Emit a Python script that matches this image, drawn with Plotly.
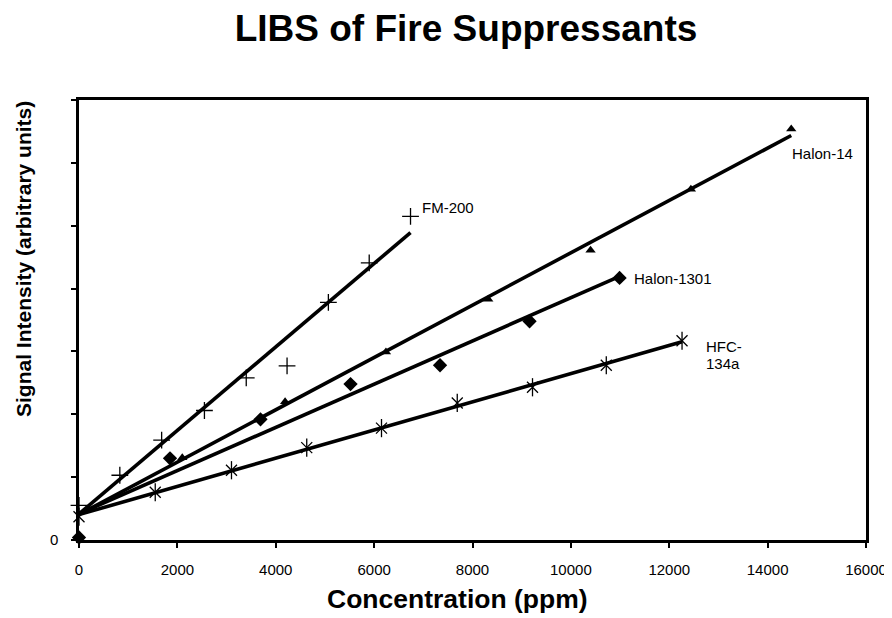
import numpy as np
import plotly.graph_objects as go

# ---- data ----
fm200_x = [0, 830, 1680, 2550, 3400, 4230, 5070, 5900, 6740]
fm200_y = [0.55, 1.03, 1.59, 2.06, 2.58, 2.77, 3.78, 4.41, 5.15]

halon14_x = [2100, 4190, 6240, 8320, 10400, 12440, 14480]
halon14_y = [1.31, 2.20, 2.99, 3.83, 4.61, 5.58, 6.54]

halon1301_x = [0, 1850, 3690, 5520, 7340, 9160, 10990]
halon1301_y = [0.04, 1.30, 1.92, 2.48, 2.78, 3.48, 4.17]

hfc_x = [0, 1550, 3100, 4630, 6150, 7690, 9220, 10720, 12260]
hfc_y = [0.37, 0.76, 1.11, 1.47, 1.78, 2.18, 2.43, 2.78, 3.17]

x_ticks = [0, 2000, 4000, 6000, 8000, 10000, 12000, 14000, 16000]
x_ticktext = ["0", "2000", "4000", "6000", "8000", "10000", "12000", "14000", "16000"]
y_ticks = [0, 1, 2, 3, 4, 5, 6, 7]
y_ticktext = ["0", "", "", "", "", "", "", ""]

title_text = "LIBS of Fire Suppressants"
x_title = "Concentration (ppm)"
y_title = "Signal Intensity (arbitrary units)"

FONT = "Liberation Sans, Arial, sans-serif"

# page body has an 8px margin, so the figure is offset by (8, 8) in the window
OFF = 8
W, H = 892 - OFF, 618 - OFF
L = 79 - OFF
T = 100 - OFF
R = W - (866 - OFF)
B = H - (540 - OFF)
pw, ph = W - L - R, H - T - B


def px_to_paper(px, py):
    fx, fy = px - OFF, py - OFF
    return (fx - L) / pw, 1 - (fy - T) / ph


fig = go.Figure()


def fit_line(xs, ys):
    m, b = np.polyfit(xs, ys, 1)
    xx = np.array([0, max(xs)])
    return xx, m * xx + b


series = [
    ("FM-200", fm200_x, fm200_y),
    ("Halon-14", halon14_x, halon14_y),
    ("Halon-1301", halon1301_x, halon1301_y),
    ("HFC-134a", hfc_x, hfc_y),
]

# trend lines
for name, xs, ys in series:
    lx, ly = fit_line(xs, ys)
    fig.add_trace(go.Scatter(x=lx, y=ly, mode="lines",
                             line=dict(color="black", width=3.6),
                             showlegend=False, hoverinfo="skip"))

# markers
fig.add_trace(go.Scatter(x=fm200_x, y=fm200_y, mode="markers", name="FM-200",
                         marker=dict(symbol="cross-thin-open", size=12, color="black",
                                     line=dict(color="black", width=1.3)),
                         cliponaxis=False, showlegend=False))
fig.add_trace(go.Scatter(x=halon14_x, y=halon14_y, mode="markers", name="Halon-14",
                         marker=dict(symbol="triangle-up", size=9, color="black"),
                         cliponaxis=False, showlegend=False))
fig.add_trace(go.Scatter(x=halon1301_x, y=halon1301_y, mode="markers", name="Halon-1301",
                         marker=dict(symbol="diamond", size=11, color="black"),
                         cliponaxis=False, showlegend=False))
fig.add_trace(go.Scatter(x=hfc_x, y=hfc_y, mode="markers", name="HFC-134a",
                         marker=dict(symbol="x-thin-open", size=11, color="black",
                                     line=dict(color="black", width=1.3)),
                         cliponaxis=False, showlegend=False))
fig.add_trace(go.Scatter(x=hfc_x, y=hfc_y, mode="markers", name="HFC-134a",
                         marker=dict(symbol="line-ns-open", size=13, color="black",
                                     line=dict(color="black", width=1.3)),
                         cliponaxis=False, showlegend=False))

# series labels
ann_font = dict(family=FONT, size=15, color="black")
label_specs = [
    ("FM-200", fm200_x, fm200_y, 9, 9),
    ("Halon-14", halon14_x, halon14_y, -1, -25),
    ("Halon-1301", halon1301_x, halon1301_y, 12, -1),
    ("HFC-", hfc_x, hfc_y, 22, -6),
    ("134a", hfc_x, hfc_y, 22, -23),
]
for text, xs, ys, dx, dy in label_specs:
    fig.add_annotation(x=xs[-1], y=ys[-1], xref="x", yref="y", text=text,
                       showarrow=False, xanchor="left", yanchor="middle",
                       align="left", xshift=dx, yshift=dy, font=ann_font)

# axis titles
ax_x, ax_y = px_to_paper(457, 599)
fig.add_annotation(x=ax_x, y=ax_y, xref="paper", yref="paper", text=f"<b>{x_title}</b>",
                   showarrow=False, font=dict(family=FONT, size=26.5, color="black"),
                   xanchor="center", yanchor="middle")
ay_x, ay_y = px_to_paper(23, 259)
fig.add_annotation(x=ay_x, y=ay_y, xref="paper", yref="paper", text=f"<b>{y_title}</b>",
                   showarrow=False, textangle=-90,
                   font=dict(family=FONT, size=21, color="black"),
                   xanchor="center", yanchor="middle")

fig.update_layout(
    width=W, height=H,
    margin=dict(l=L, r=R, t=T, b=B, autoexpand=False),
    paper_bgcolor="white", plot_bgcolor="white",
    font=dict(family=FONT, color="black"),
    title=dict(text=f"<b>{title_text}</b>", x=(466 - OFF) / W, xref="container",
               y=1 - (28 - OFF) / H, yref="container", xanchor="center", yanchor="middle",
               font=dict(family=FONT, size=37, color="black")),
    showlegend=False,
)
fig.update_xaxes(range=[0, 16000], tickvals=x_ticks, ticktext=x_ticktext,
                 ticks="outside", ticklen=5, automargin=False,
                 ticklabeloverflow="allow",
                 tickwidth=2, tickcolor="black", showline=True, linecolor="black",
                 linewidth=2.5, mirror=True, showgrid=False, zeroline=False,
                 tickfont=dict(family=FONT, size=15, color="black"),
                 ticklabelstandoff=9)
fig.update_yaxes(range=[0, 7], tickvals=y_ticks, ticktext=y_ticktext, ticks="outside",
                 ticklen=5, tickwidth=2, tickcolor="black", showline=True,
                 linecolor="black", linewidth=2.5, mirror=True, showgrid=False,
                 automargin=False, ticklabeloverflow="allow",
                 zeroline=False, tickfont=dict(family=FONT, size=15, color="black"),
                 ticklabelstandoff=10)

fig.write_html("out.html",
               post_script="document.documentElement.style.overflow='hidden';"
                           "document.body.style.overflow='hidden';")
